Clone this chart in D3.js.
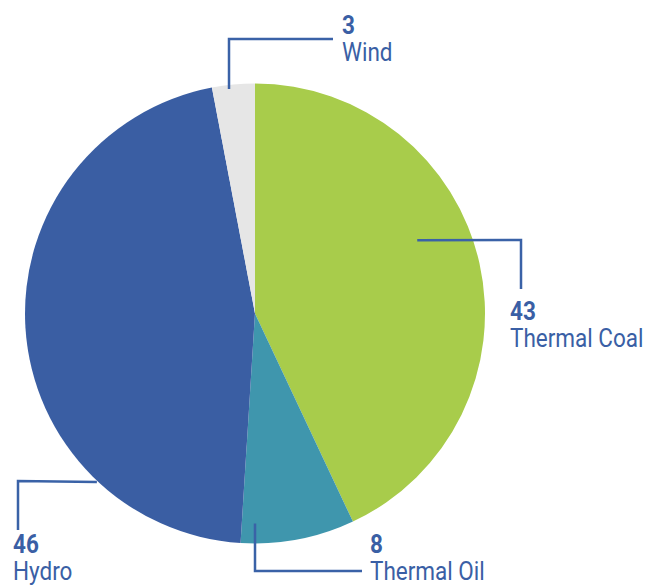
<!DOCTYPE html>
<html>
<head>
<meta charset="utf-8">
<script src="https://cdn.jsdelivr.net/npm/d3@7"></script>
<style>
  body { margin: 0; background: #fff; }
  text { font-family: Roboto, "Noto Sans", sans-serif; fill: #3a5fa5; }
</style>
</head>
<body>
<svg id="pie"></svg>
<script>
const size = { w: 646, h: 586 };
const center = { x: 255, y: 313.5 };
const radius = 230;

// data
const categories = ["Thermal Coal", "Thermal Oil", "Hydro", "Wind"];
const values = [43, 8, 46, 3];
const colors = ["#a8cc4b", "#3f96ad", "#3a5ea3", "#e6e6e6"];

// label layout: where leader leaves the slice (angle deg, radius), elbow and text anchor
const leaders = [
	{ angle: 65.7, r: 178, elbow: [521, 240], end: [521, 289], text: [510, 320] },
	{ angle: 180, r: 210, elbow: [255, 571], end: [362, 571], text: [370, 553] },
	{ angle: 223.2, r: 231, elbow: [18, 481], end: [18, 530], text: [13, 553] },
	{ angle: 353.4, r: 226, elbow: [229, 39], end: [333, 39], text: [342, 34] },
];

const svg = d3.select("svg#pie").attr("width", size.w).attr("height", size.h);

const pieG = svg.append("g").attr("transform", `translate(${center.x}, ${center.y})`);

const pie = d3.pie().sort(null).value((d) => d.value);
const arc = d3.arc().innerRadius(0).outerRadius(radius);

const data = categories.map((c, i) => ({ name: c, value: values[i], color: colors[i] }));

pieG
	.selectAll("path")
	.data(pie(data))
	.join("path")
	.attr("d", arc)
	.attr("fill", (d) => d.data.color);

// leader lines
const annG = svg.append("g");
annG
	.selectAll("path")
	.data(leaders)
	.join("path")
	.attr("fill", "none")
	.attr("stroke", "#3a62a7")
	.attr("stroke-width", 2.5)
	.attr("d", (d) => {
		let a = (d.angle * Math.PI) / 180;
		let sx = center.x + d.r * Math.sin(a);
		let sy = center.y - d.r * Math.cos(a);
		return d3.line()([[sx, sy], d.elbow, d.end]);
	});

const labels = annG
	.selectAll("g.label")
	.data(data)
	.join("g")
	.classed("label", true)
	.attr("transform", (d, i) => `translate(${leaders[i].text[0]}, ${leaders[i].text[1]}) scale(0.9, 1)`);

labels
	.append("text")
	.attr("font-size", 25)
	.attr("font-weight", "bold")
	.text((d) => d.value);

labels
	.append("text")
	.attr("y", 27)
	.attr("font-size", 25)
	.text((d) => d.name);
</script>
</body>
</html>
